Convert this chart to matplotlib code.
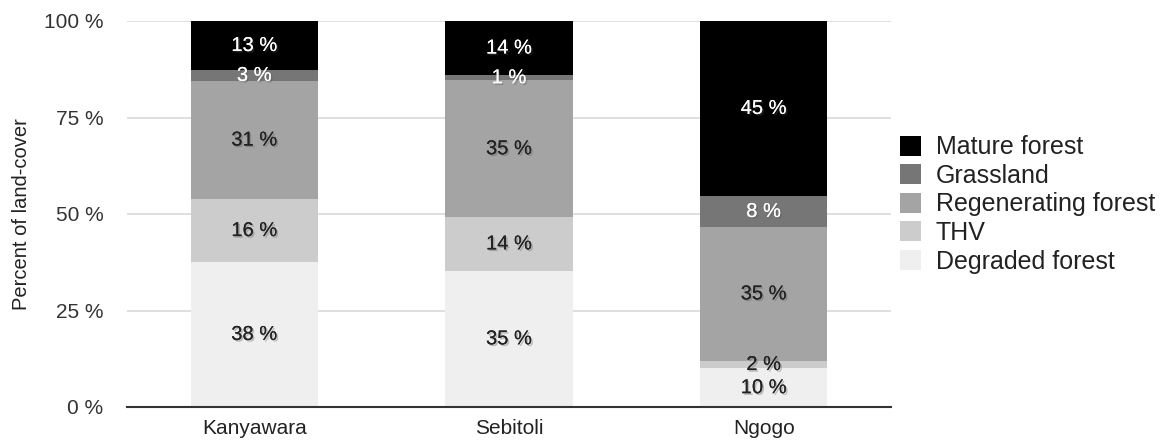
import matplotlib
matplotlib.use("Agg")
import matplotlib.pyplot as plt
import matplotlib.patheffects as pe
import numpy as np

plt.rcParams['font.family'] = ['Liberation Sans', 'DejaVu Sans']

sites = ["Kanyawara", "Sebitoli", "Ngogo"]
series_names = ["Degraded forest", "THV", "Regenerating forest", "Grassland", "Mature forest"]
degraded = [37.6, 35.3, 10.0]
thv = [16.2, 13.9, 2.0]
regenerating = [30.7, 35.4, 34.6]
grassland = [2.8, 1.4, 8.1]
mature = [12.7, 14.0, 45.3]
yticks = [0, 25, 50, 75, 100]
ytick_labels = ["0 %", "25 %", "50 %", "75 %", "100 %"]

series_vals = [degraded, thv, regenerating, grassland, mature]
colors = ["#efefef", "#cccccc", "#a4a4a4", "#767676", "#000000"]
text_colors = ["#222222", "#222222", "#222222", "#ffffff", "#ffffff"]

fig = plt.figure(figsize=(11.64, 4.42), dpi=100)
ax = fig.add_axes([127/1164, 1-407/442, (891-127)/1164, (407-21)/442])

x = np.arange(len(sites))
bottom = np.zeros(len(sites))
handles = []
shadow = [pe.withSimplePatchShadow(offset=(1.2, -1.2), shadow_rgbFace="#555555", alpha=0.35), pe.Normal()]
for vals, c, tc, name in zip(series_vals, colors, text_colors, series_names):
    vals = np.array(vals)
    b = ax.bar(x, vals, width=0.5, bottom=bottom, color=c, label=name, zorder=2, linewidth=0)
    handles.append(b)
    for xi, v, bt in zip(x, vals, bottom):
        ax.text(xi, bt + v/2, f"{round(v):d} %", ha="center", va="center", fontsize=14.5,
                color=tc, zorder=3, path_effects=shadow)
    bottom += vals

ax.set_xlim(-0.5, 2.5)
ax.set_ylim(0, 100)
ax.set_yticks(yticks)
ax.set_yticklabels(ytick_labels)
ax.set_xticks(x)
ax.set_xticklabels(sites)
ax.tick_params(axis='y', length=0, pad=17, labelsize=15, labelcolor="#333333")
ax.tick_params(axis='x', length=0, pad=9, labelsize=15, labelcolor="#222222")
ax.yaxis.grid(True, color="#d9d9d9", linewidth=1.2, zorder=0)
ax.set_axisbelow(True)
for s in ["top", "right", "left"]:
    ax.spines[s].set_visible(False)
ax.spines["bottom"].set_color("#333333")
ax.spines["bottom"].set_linewidth(1.5)
ax.spines["bottom"].set_zorder(4)
ax.set_ylabel("Percent of land-cover", fontsize=14.5, color="#222222")
ax.yaxis.set_label_coords(-(127-31)/764, 0.5)

leg = fig.legend(handles[::-1], series_names[::-1], loc="center left",
                 bbox_to_anchor=(900/1164, 1-204.5/442), frameon=False,
                 fontsize=18, handlelength=0.84, handleheight=0.84,
                 handletextpad=0.6, labelspacing=0.18, borderpad=0, borderaxespad=0)
for t in leg.get_texts():
    t.set_color("#222222")

fig.savefig("out.png", dpi=100)
